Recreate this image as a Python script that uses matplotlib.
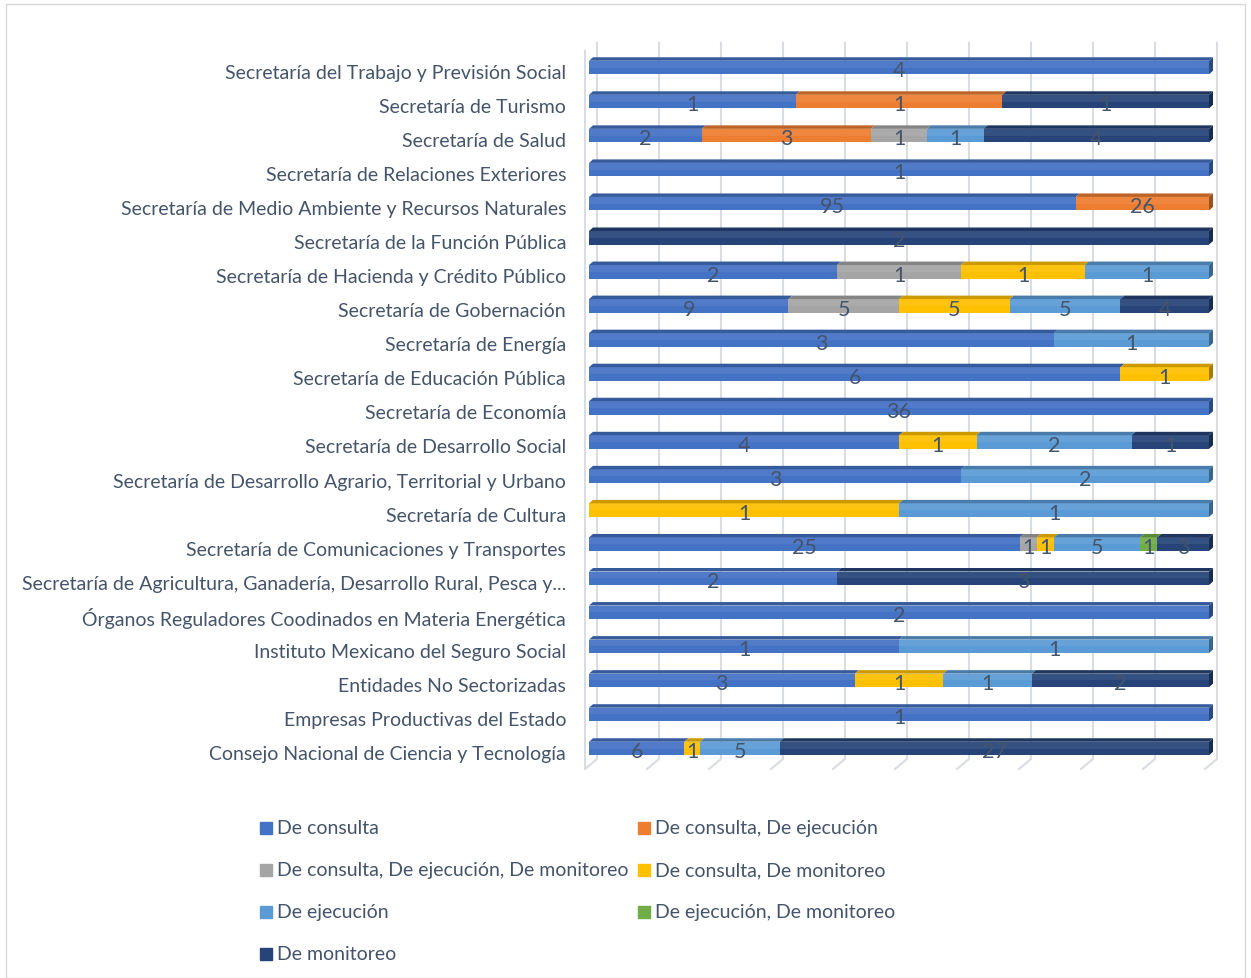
import numpy as np
import matplotlib.pyplot as plt
from matplotlib.patches import Polygon, Rectangle
from matplotlib.colors import to_rgb

# categorias de arriba hacia abajo
categorias = [
    "Secretaría del Trabajo y Previsión Social",
    "Secretaría de Turismo",
    "Secretaría de Salud",
    "Secretaría de Relaciones Exteriores",
    "Secretaría de Medio Ambiente y Recursos Naturales",
    "Secretaría de la Función Pública",
    "Secretaría de Hacienda y Crédito Público",
    "Secretaría de Gobernación",
    "Secretaría de Energía",
    "Secretaría de Educación Pública",
    "Secretaría de Economía",
    "Secretaría de Desarrollo Social",
    "Secretaría de Desarrollo Agrario, Territorial y Urbano",
    "Secretaría de Cultura",
    "Secretaría de Comunicaciones y Transportes",
    "Secretaría de Agricultura, Ganadería, Desarrollo Rural, Pesca y...",
    "Órganos Reguladores Coodinados en Materia Energética",
    "Instituto Mexicano del Seguro Social",
    "Entidades No Sectorizadas",
    "Empresas Productivas del Estado",
    "Consejo Nacional de Ciencia y Tecnología",
]

series = [
    "De consulta",
    "De consulta, De ejecución",
    "De consulta, De ejecución, De monitoreo",
    "De consulta, De monitoreo",
    "De ejecución",
    "De ejecución, De monitoreo",
    "De monitoreo",
]

de_consulta = [4, 1, 2, 1, 95, 0, 2, 9, 3, 6, 36, 4, 3, 0, 25, 2, 2, 1, 3, 1, 6]
consulta_ejecucion = [0, 1, 3, 0, 26, 0, 0, 0, 0, 0, 0, 0, 0, 0, 0, 0, 0, 0, 0, 0, 0]
consulta_ejec_monit = [0, 0, 1, 0, 0, 0, 1, 5, 0, 0, 0, 0, 0, 0, 1, 0, 0, 0, 0, 0, 0]
consulta_monitoreo = [0, 0, 0, 0, 0, 0, 1, 5, 0, 1, 0, 1, 0, 1, 1, 0, 0, 0, 1, 0, 1]
de_ejecucion = [0, 0, 1, 0, 0, 0, 1, 5, 1, 0, 0, 2, 2, 1, 5, 0, 0, 1, 1, 0, 5]
ejecucion_monitoreo = [0, 0, 0, 0, 0, 0, 0, 0, 0, 0, 0, 0, 0, 0, 1, 0, 0, 0, 0, 0, 0]
de_monitoreo = [0, 1, 4, 0, 0, 2, 0, 4, 0, 0, 0, 1, 0, 0, 3, 3, 0, 0, 2, 0, 27]

colores = ["#4472C4", "#ED7D31", "#A5A5A5", "#FFC000", "#5B9BD5", "#70AD47", "#264478"]

valores = np.array([de_consulta, consulta_ejecucion, consulta_ejec_monit,
                    consulta_monitoreo, de_ejecucion, ejecucion_monitoreo,
                    de_monitoreo], dtype=float)
totales = valores.sum(axis=0)
fracc = valores / totales

texto = "#44546A"
plt.rcParams['font.family'] = ['Lato', 'DejaVu Sans']

W, H = 1251, 979
fig = plt.figure(figsize=(W / 100, H / 100), dpi=100)
fig.patches.append(Rectangle((6 / W, 0), 1239 / W, 1 - 5 / H, transform=fig.transFigure,
                             fill=False, edgecolor="#D9D9D9", lw=1))

# area de barras: x 589..1209 px, y 44..770 px
x0_px, x1_px = 589, 1209
y_top, y_bot = 44, 770
fila0, paso = 68.5, 34.05
ax = fig.add_axes([x0_px / W, 1 - y_bot / H, (x1_px - x0_px) / W, (y_bot - y_top) / H])
ax.set_xlim(0, 1)
ax.set_ylim((y_bot - fila0) / paso, (y_top - fila0) / paso)

px_x = 1 / (x1_px - x0_px)
px_y = 1 / paso


def py(p):
    return (p - fila0) / paso


def oscuro(c, f):
    r, g, b = to_rgb(c)
    return (r * f, g * f, b * f)


# paredes / rejilla
rej = "#D9DCE3"
for k in range(11):
    gx = k / 10 + 8 * px_x
    ax.plot([gx, gx, gx - 12 * px_x], [py(y_top), py(760), py(770)],
            color=rej, lw=1.5, clip_on=False, zorder=0)
ax.plot([-4 * px_x, -4 * px_x], [py(52), py(769)], color=rej, lw=1.5, clip_on=False, zorder=0)

y = np.arange(len(categorias))
alto = 13.5 * px_y
dx, dy = 4 * px_x, 3.5 * px_y
izq = np.zeros(len(categorias))
for s in range(len(series)):
    w = fracc[s]
    ax.barh(y, w, left=izq, height=alto, color=colores[s], zorder=2, label=series[s])
    # brillo superior del frente
    ax.barh(y - alto * 0.25, w, left=izq, height=alto * 0.5, color="white",
            alpha=0.07, zorder=3, lw=0)
    for i in range(len(categorias)):
        if valores[s, i] == 0:
            continue
        a, b = izq[i], izq[i] + w[i]
        t = y[i] - alto / 2
        ax.add_patch(Polygon([(a, t), (a + dx, t - dy), (b + dx, t - dy), (b, t)],
                             closed=True, color=oscuro(colores[s], 0.8), lw=0,
                             zorder=2, clip_on=False))
        if abs(b - 1) < 1e-9:
            ax.add_patch(Polygon([(b, t), (b + dx, t - dy), (b + dx, t + alto - dy), (b, t + alto)],
                                 closed=True, color=oscuro(colores[s], 0.65), lw=0,
                                 zorder=2, clip_on=False))
        ax.text((a + b) / 2, y[i] + 0.08, f"{int(valores[s, i])}", ha="center", va="center",
                fontsize=15.5, color=texto, zorder=4)
    izq = izq + w

ax.set_yticks(y + 0.1)
ax.set_yticklabels(categorias, fontsize=14, color=texto)
ax.tick_params(axis="y", length=0, pad=16.5)
ax.set_xticks([])
for sp in ax.spines.values():
    sp.set_visible(False)
ax.patch.set_alpha(0)

# leyenda en dos columnas
col_x = [260, 638]
fila_y = [829, 871, 913, 955]
for n, nombre in enumerate(series):
    cx = col_x[n % 2]
    cy = fila_y[n // 2]
    fig.patches.append(Rectangle((cx / W, 1 - (cy + 6) / H), 12 / W, 12 / H,
                                 transform=fig.transFigure, color=colores[n]))
    fig.text((cx + 17) / W, 1 - cy / H, nombre, fontsize=14, color=texto,
             ha="left", va="center")

fig.savefig("out.png", dpi=100)
